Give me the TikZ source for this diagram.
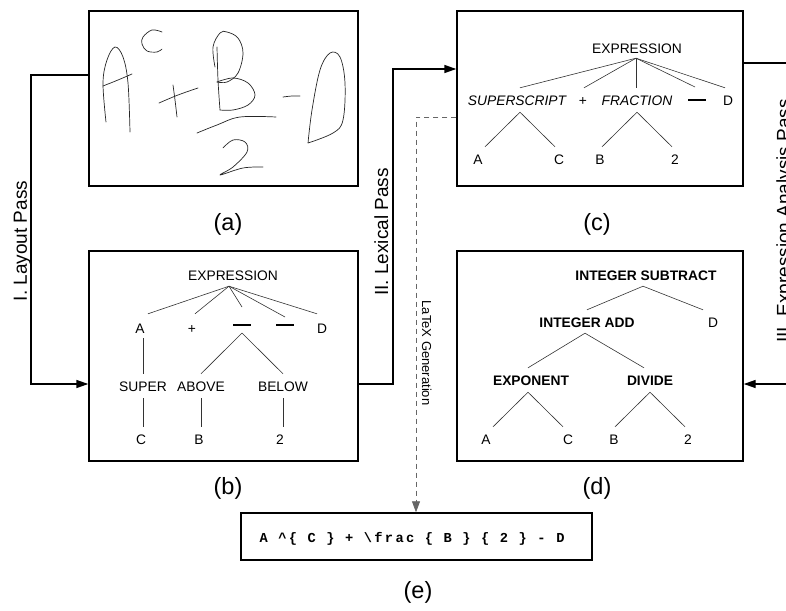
\documentclass[tikz,border=0pt]{standalone}
\usepackage{fontspec}
\setmainfont{Liberation Sans}
\newfontfamily\codefont[LetterSpace=17]{Liberation Mono}
\usetikzlibrary{arrows.meta,calc}
\begin{document}
\begin{tikzpicture}[x=1pt,y=-1pt,
  box/.style={draw, line width=1.4pt, minimum width=269pt, minimum height=175pt, inner sep=0pt},
  tn/.style={font=\fontsize{13.8}{14}\selectfont, text height=10pt, text depth=0pt, inner xsep=2pt, inner ysep=7pt},
  tni/.style={tn, font=\fontsize{13.8}{14}\selectfont\itshape},
  tnb/.style={tn, font=\fontsize{13.8}{14}\selectfont\bfseries},
  barn/.style={inner sep=0pt, text height=1.6pt, text depth=0pt},
  treeline/.style={line width=0.6pt, black!80},
  conn/.style={line width=1.4pt},
  arr/.style={-{Triangle[length=12pt,width=8pt]}},
  lbl/.style={font=\fontsize{23.5}{26}\selectfont},
  pass/.style={font=\fontsize{19}{21}\selectfont, rotate=90, anchor=base, inner sep=0pt},
  hand/.style={line width=0.7pt, black!85, line join=round, line cap=round}
]
\useasboundingbox (0,0) rectangle (786,610);
\clip (0,0) rectangle (786,610);

% boxes
\node[box] (a) at (223.5,98.5) {};
\node[box, minimum height=210pt] (b) at (223.5,356) {};
\node[box, minimum width=286pt] (c) at (600,98.5) {};
\node[box, minimum width=286pt, minimum height=210pt] (d) at (600,356) {};
\node[box, minimum width=351pt, minimum height=47pt] (e) at (416.5,536.5) {};
\node[font=\codefont\bfseries\fontsize{13.7}{15}\selectfont] (etext) at (412,538.5)
  {A \textasciicircum\{ C \} + \textbackslash frac \{ B \} \{ 2 \} - D};

% labels
\node[lbl] (la) at (228,224) {(a)};
\node[lbl] (lb) at (228,488) {(b)};
\node[lbl] (lc) at (597,224) {(c)};
\node[lbl] (ld) at (597,488) {(d)};
\node[lbl] (le) at (418,592) {(e)};

% handwriting in (a)
\draw[hand] plot[smooth, tension=0.6] coordinates {(106,122) (103,83) (107,60) (115,47) (123,57) (128,83) (130,132)};
\draw[hand] plot[smooth, tension=0.6] coordinates {(103,86) (118,80) (132,74)};
\draw[hand] plot[smooth, tension=0.6] coordinates {(162,32) (152,30) (143,37) (142,44) (147,51) (157,52) (162,49)};
\draw[hand] plot[smooth, tension=0.6] coordinates {(159,103) (178,95) (198,88)};
\draw[hand] plot[smooth, tension=0.6] coordinates {(173,85) (175,100) (177,117)};
\draw[hand] plot[smooth, tension=0.6] coordinates {(217,47) (218,80) (220,110)};
\draw[hand] plot[smooth, tension=0.6] coordinates {(215,67) (213,47) (220,33) (227,32) (238,38) (243,53) (238,73) (227,82) (217,82)};
\draw[hand] plot[smooth, tension=0.6] coordinates {(217,82) (233,78) (248,83) (255,95) (248,105) (233,110) (220,110)};
\draw[hand] plot[smooth, tension=0.6] coordinates {(197,133) (217,125) (240,117) (276,117)};
\draw[hand] plot[smooth, tension=0.6] coordinates {(223,148) (233,140) (245,142) (247,152) (233,167) (220,175) (243,168) (263,167)};
\draw[hand] plot[smooth, tension=0.6] coordinates {(283,97) (292,96) (300,96)};
\draw[hand] plot[smooth, tension=0.6] coordinates {(308,143) (312,110) (320,70) (330,53) (340,57) (345,83) (343,120) (333,133) (308,143)};

% tree (b)
\node[tn] (bE) at (233,275) {EXPRESSION};
\node[tn] (bA) at (140,328) {A};
\node[tn] (bP) at (192,328) {+};
\node[barn] (bM1) at (242,325) {\rule{18pt}{1.6pt}};
\node[barn] (bM2) at (285,325) {\rule{18pt}{1.6pt}};
\node[tn] (bD) at (322,328) {D};
\node[tn] (bSu) at (143,386) {SUPER};
\node[tn] (bAb) at (201,386) {ABOVE};
\node[tn] (bBe) at (283,386) {BELOW};
\node[tn] (bC) at (141,439) {C};
\node[tn] (bB) at (199,439) {B};
\node[tn] (b2) at (280,439) {2};
\coordinate (bEa) at ($(bE.south)+(-4,-1)$);
\draw[treeline] (bEa) -- ($(bA.north)+(8,-2)$);
\draw[treeline] (bEa) -- ($(bP.north)+(3,-2)$);
\draw[treeline] (bEa) -- ($(bM1)+(0,-18)$);
\draw[treeline] (bEa) -- ($(bM2)+(0,-8)$);
\draw[treeline] (bEa) -- ($(bD.north)+(-5,-2)$);
\draw[treeline] ($(bA.south)+(3,-2)$) -- (bSu.north);
\draw[treeline] ($(bM1)+(0,8)$) -- (bAb.north);
\draw[treeline] ($(bM1)+(0,8)$) -- (bBe.north);
\draw[treeline] (bSu.south) -- (bSu.south |- bC.north);
\draw[treeline] (bAb.south) -- (bAb.south |- bB.north);
\draw[treeline] (bBe.south) -- (bBe.south |- b2.north);

% tree (c)
\node[tn] (cE) at (637,48) {EXPRESSION};
\node[tni] (cS) at (517,100) {SUPERSCRIPT};
\node[tn] (cP) at (583,100) {+};
\node[tni] (cF) at (637,100) {FRACTION};
\node[barn] (cM) at (697,100) {\rule{18pt}{1.6pt}};
\node[tn] (cD) at (728,100) {D};
\node[tn] (cA) at (478,159) {A};
\node[tn] (cC) at (559,159) {C};
\node[tn] (cB) at (600,159) {B};
\node[tn] (c2) at (675,159) {2};
\coordinate (cEa) at ($(cE.south)+(-1,-2)$);
\draw[treeline] (cEa) -- ($(cS.north)+(3,0)$);
\draw[treeline] (cEa) -- ($(cP.north)+(1,0)$);
\draw[treeline] (cEa) -- ($(cF.north)+(-1,0)$);
\draw[treeline] (cEa) -- ($(cM)+(-2,-13)$);
\draw[treeline] (cEa) -- ($(cD.north)+(-3,0)$);
\draw[treeline] ($(cS.south)+(3,0)$) -- ($(cA.north)+(7,0)$);
\draw[treeline] ($(cS.south)+(3,0)$) -- ($(cC.north)+(-4,0)$);
\draw[treeline] (cF.south) -- ($(cB.north)+(2,0)$);
\draw[treeline] (cF.south) -- ($(c2.north)+(-3,0)$);

% tree (d)
\node[tnb] (dS) at (646,275) {INTEGER SUBTRACT};
\node[tnb] (dA) at (587,322) {INTEGER ADD};
\node[tn] (dD) at (713,322) {D};
\node[tnb] (dX) at (531,380) {EXPONENT};
\node[tnb] (dV) at (650,380) {DIVIDE};
\node[tn] (dLa) at (486,439) {A};
\node[tn] (dLc) at (568,439) {C};
\node[tn] (dLb) at (614,439) {B};
\node[tn] (dL2) at (688,439) {2};
\coordinate (dSa) at ($(dS.south)+(-3,-1)$);
\draw[treeline] (dSa) -- (dA.north);
\draw[treeline] (dSa) -- ($(dD.north)+(-10,0)$);
\coordinate (dAa) at ($(dA.south)+(-2,-1)$);
\draw[treeline] (dAa) -- ($(dX.north)+(-3,0)$);
\draw[treeline] (dAa) -- ($(dV.north)+(-6,0)$);
\coordinate (dXa) at ($(dX.south)+(-3,0)$);
\draw[treeline] (dXa) -- ($(dLa.north)+(7,0)$);
\draw[treeline] (dXa) -- ($(dLc.north)+(-5,0)$);
\draw[treeline] (dV.south) -- ($(dLb.north)+(1,0)$);
\draw[treeline] (dV.south) -- ($(dL2.north)+(-3,0)$);

% connectors
\coordinate (l1) at (31,75);
\coordinate (l2) at (31,384);
\draw[conn,arr] (a.west |- l1) -- (l1) -- (l2) -- (b.west |- l2);
\coordinate (x1) at (393,384);
\coordinate (x2) at (393,69);
\draw[conn,arr] (b.east |- x1) -- (x1) -- (x2) -- (c.west |- x2);
\coordinate (y1) at (800,63);
\coordinate (y2) at (800,384);
\draw[conn,arr] (c.east |- y1) -- (y1) -- (y2) -- (d.east |- y2);
\coordinate (g1) at (416,117);
\draw[line width=0.8pt, black!60, dash pattern=on 5pt off 4pt, -{Triangle[length=11pt,width=8pt]}]
  (c.west |- g1) -- (g1) -- (g1 |- e.north);

% pass labels
\node[pass] (p1) at (27,241) {I.\ Layout Pass};
\node[pass] (p2) at (388,232) {II.\ Lexical Pass};
\node[pass] (p3) at (790,221) {III.\ Expression Analysis Pass};
\node[font=\fontsize{13}{14}\selectfont, rotate=-90, anchor=base, inner sep=0pt] (lg) at (422,353) {LaTeX Generation};
\end{tikzpicture}
\end{document}
